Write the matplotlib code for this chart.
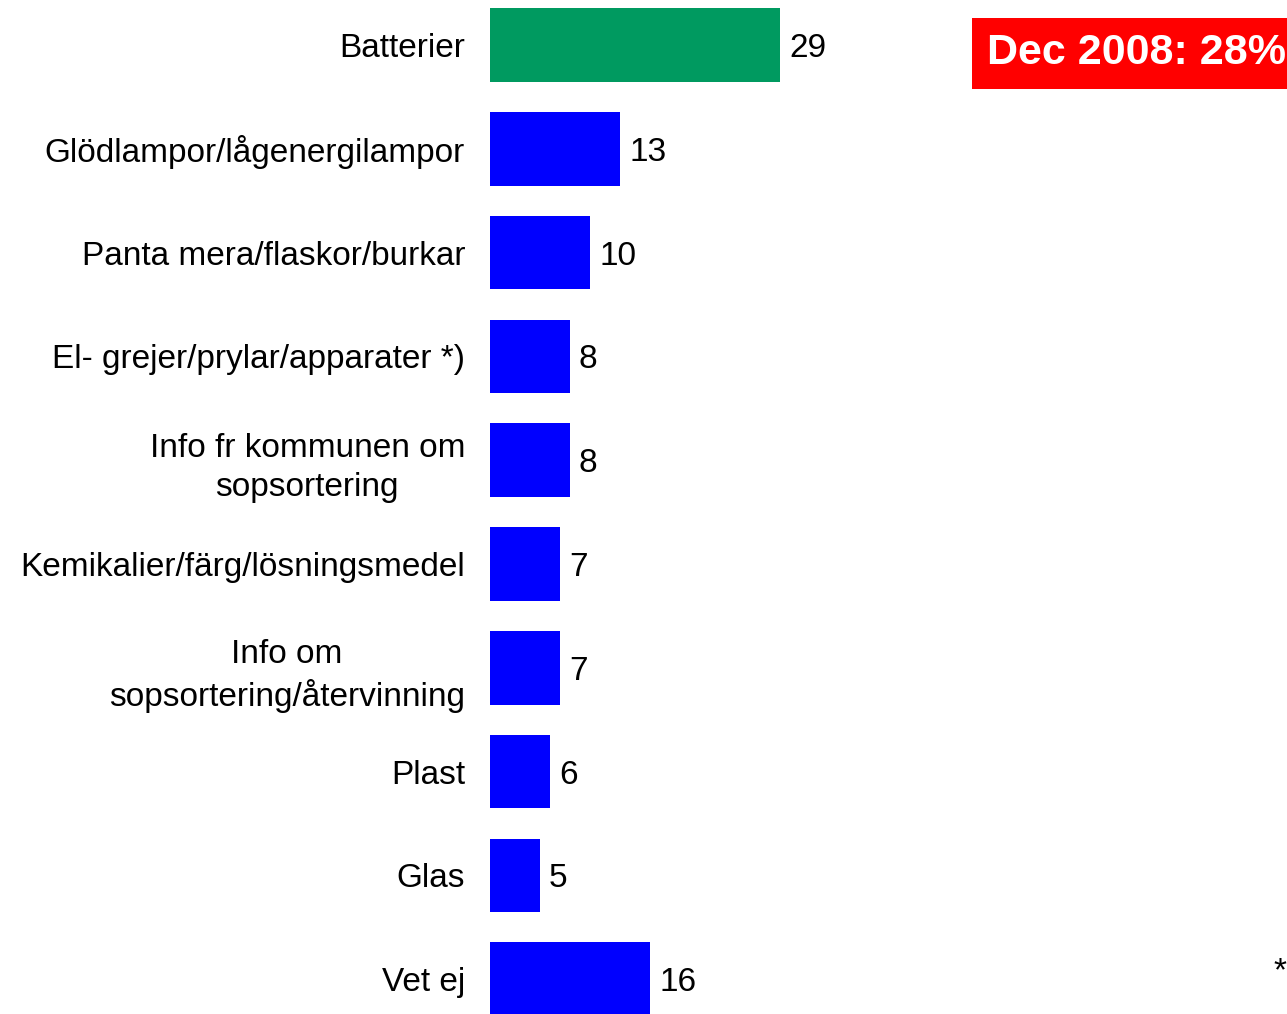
import matplotlib.pyplot as plt

plt.rcParams['font.family'] = ['Liberation Sans', 'DejaVu Sans']

categories = ['Batterier', 'Glödlampor/lågenergilampor', 'Panta mera/flaskor/burkar',
              'El- grejer/prylar/apparater *)', 'Info fr kommunen om\nsopsortering',
              'Kemikalier/färg/lösningsmedel', 'Info om\nsopsortering/återvinning',
              'Plast', 'Glas', 'Vet ej']
values = [29, 13, 10, 8, 8, 7, 7, 6, 5, 16]
colors = ['#009A60'] + ['#0000FF'] * 9

fig = plt.figure(figsize=(12.87, 10.14), dpi=100)
ax = fig.add_axes([490 / 1287, 0, 797 / 1287, 1])

pos = range(len(values))
ax.barh(pos, values, height=0.71, color=colors)
ax.set_xlim(0, 79.7)
ax.set_ylim(9.335, -0.434)

for i, v in enumerate(values):
    ax.text(v + 0.9, i, str(v), va='center_baseline', ha='left', fontsize=24)

ax.set_yticks(list(pos))
ax.set_yticklabels(categories, fontsize=24, multialignment='center', linespacing=1.35)
ax.tick_params(axis='y', length=0, pad=18)
ax.set_xticks([])
for s in ax.spines.values():
    s.set_visible(False)

# red box with previous result
fig.text(987 / 1287, 1 - 53 / 1014, 'Dec 2008: 28%', color='white', fontsize=31,
         fontweight='bold', va='center', ha='left',
         bbox=dict(boxstyle='square,pad=0.36', fc='#FF0000', ec='none'))
# footnote marker at the right edge
fig.text(1273 / 1287, 1 - 972 / 1014, '*', fontsize=24, va='center', ha='left')

fig.savefig('out.png', dpi=100)
